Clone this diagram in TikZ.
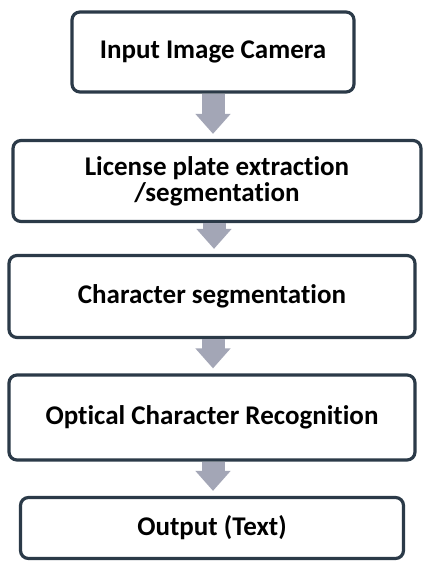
\documentclass[tikz,border=0pt]{standalone}
\usepackage{fontspec}
\setmainfont{Carlito}[Ligatures=NoCommon]
\usetikzlibrary{arrows.meta}

\definecolor{boxline}{HTML}{2B3A48}
\definecolor{flowgray}{HTML}{A3A6B6}

\tikzset{
  stage/.style={rectangle, draw=boxline, line width=3.2pt, rounded corners=8pt,
    fill=white, align=center, font=\fontsize{27}{26}\selectfont\bfseries},
  flow/.style={draw=flowgray, line width=23pt,
    -{Triangle[width=34pt,length=20pt]}, shorten >=5pt}
}

\begin{document}
\begin{tikzpicture}[x=1pt, y=-1pt]
		\useasboundingbox (0,0) rectangle (423,562);
		
		\node (cam) [stage, minimum width=282pt, minimum height=80pt] at (213,52) {Input Image Camera};
		
		\node (plate) [stage, minimum width=408pt, minimum height=81pt] at (217,181) {License plate extraction\\/segmentation};
		
		\node (charseg) [stage, minimum width=406pt, minimum height=82pt] at (212,296.5) {Character segmentation};
		
		\node (ocr) [stage, minimum width=406pt, minimum height=85pt] at (212,417.5) {Optical Character Recognition};
		
		\node (out) [stage, minimum width=383pt, minimum height=61pt] at (212,528) {Output (Text)};
		
		\draw [flow] (cam.south) -- (cam.south |- plate.north);
		\draw [flow] ([xshift=-3pt]plate.south) -- ([xshift=-3pt]plate.south |- charseg.north);
		\draw [flow] ([xshift=1pt]charseg.south) -- ([xshift=1pt]charseg.south |- ocr.north);
		\draw [flow] ([xshift=1pt]ocr.south) -- ([xshift=1pt]ocr.south |- out.north);
		
		\end{tikzpicture}
\end{document}
